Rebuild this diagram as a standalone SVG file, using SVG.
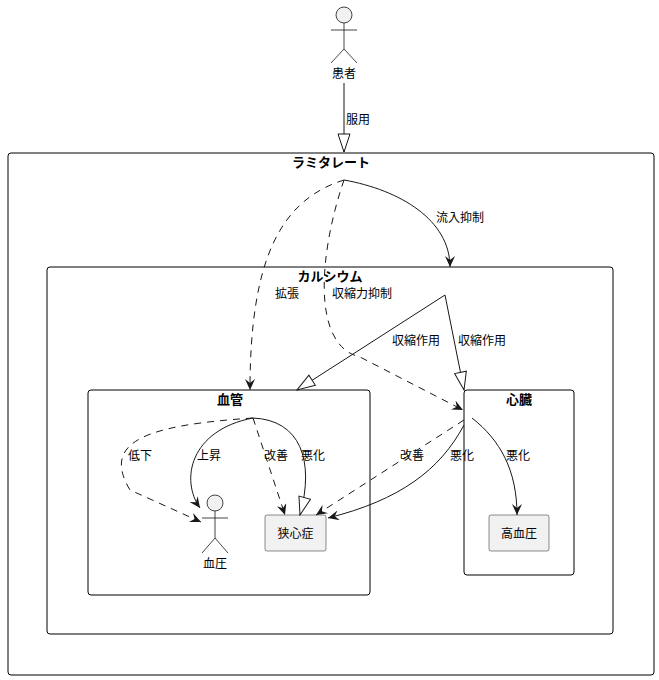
<svg xmlns="http://www.w3.org/2000/svg" width="659" height="680" viewBox="0 0 659 680">
<defs>
<style>
text{font-family:"Noto Sans CJK JP","Noto Sans",sans-serif;font-size:12px;fill:#000}
.t{font-weight:bold;font-size:13px;text-anchor:middle}
.frame{fill:none;stroke:#000;stroke-width:1}
.box{fill:#f1f1f1;stroke:#181818;stroke-width:0.5}
.act{fill:none;stroke:#181818;stroke-width:0.8}
.e{fill:none;stroke:#181818;stroke-width:1}
.d{stroke-dasharray:7,6}
.a{marker-end:url(#arr)}
.h{marker-end:url(#tri)}
</style>
<marker id="arr" viewBox="0 0 12 10" refX="11" refY="5" markerWidth="12" markerHeight="10" markerUnits="userSpaceOnUse" orient="auto"><path d="M0,0 L11,5 L0,10 L4,5 Z" fill="#181818"/></marker>
<marker id="tri" viewBox="0 0 20 14" refX="19" refY="7" markerWidth="20" markerHeight="14" markerUnits="userSpaceOnUse" orient="auto"><path d="M1,1 L19,7 L1,13 Z" fill="#fff" stroke="#181818"/></marker>
</defs>
<g id="patient">
<circle cx="344" cy="15" r="8" fill="#f1f1f1" stroke="#181818" stroke-width="0.8"/>
<path class="act" d="M344,23 V49 M331,30 H357 M344,49 L331,63 M344,49 L357,63"/>
<text x="344" y="78" text-anchor="middle">患者</text>
</g>
<g id="ramitarete"><rect class="frame" x="8" y="153" width="646" height="522" rx="3"/><text class="t" x="331" y="167">ラミタレート</text></g>
<g id="calcium"><rect class="frame" x="47" y="267" width="566" height="367" rx="3"/><text class="t" x="330" y="281">カルシウム</text></g>
<g id="kekkan"><rect class="frame" x="88" y="390" width="282" height="205" rx="3"/><text class="t" x="230" y="404">血管</text></g>
<g id="shinzo"><rect class="frame" x="464" y="390" width="110" height="185" rx="3"/><text class="t" x="519" y="404">心臓</text></g>
<g id="kyoshinsho"><rect class="box" x="265" y="515" width="61" height="36" rx="2"/><text x="295.5" y="538" text-anchor="middle">狭心症</text></g>
<g id="koketsuatsu"><rect class="box" x="489" y="515" width="60" height="36" rx="2"/><text x="519" y="538" text-anchor="middle">高血圧</text></g>
<g id="ketsuatsu">
<circle cx="215" cy="503" r="8" fill="#f1f1f1" stroke="#181818" stroke-width="0.8"/>
<path class="act" d="M215,511 V538 M202,518 H228 M215,538 L202,553 M215,538 L228,553"/>
<text x="215" y="568" text-anchor="middle">血圧</text>
</g>
<g id="connectors">
<path class="e h" d="M344,83 V152"/>
<text x="346" y="124">服用</text>
<path class="e a" d="M344,180 C400,190 450,220 450,267"/>
<text x="436" y="222">流入抑制</text>
<path class="e d a" d="M344,180 C280,200 250,260 250,390"/>
<text x="275" y="298">拡張</text>
<path class="e d a" d="M344,180 C320,250 310,345 360,357 L463,410"/>
<text x="332" y="298">収縮力抑制</text>
<path class="e h" d="M445,295 L297,390"/>
<text x="392" y="345">収縮作用</text>
<path class="e h" d="M445,295 L464,390"/>
<text x="458" y="345">収縮作用</text>
<path class="e d a" d="M253,418 C150,425 100,440 130,490 L201,522"/>
<text x="128" y="460">低下</text>
<path class="e a" d="M253,418 C190,430 180,480 200,508"/>
<text x="197" y="460">上昇</text>
<path class="e d a" d="M253,418 L285,515"/>
<text x="264" y="460">改善</text>
<path class="e h" d="M253,418 C300,420 315,460 300,515"/>
<text x="301" y="460">悪化</text>
<path class="e d a" d="M464,420 L316,515"/>
<text x="400" y="460">改善</text>
<path class="e a" d="M464,425 C440,470 400,500 328,518"/>
<text x="450" y="460">悪化</text>
<path class="e a" d="M472,418 C500,440 517,470 517,515"/>
<text x="506" y="460">悪化</text>
</g>
</svg>
